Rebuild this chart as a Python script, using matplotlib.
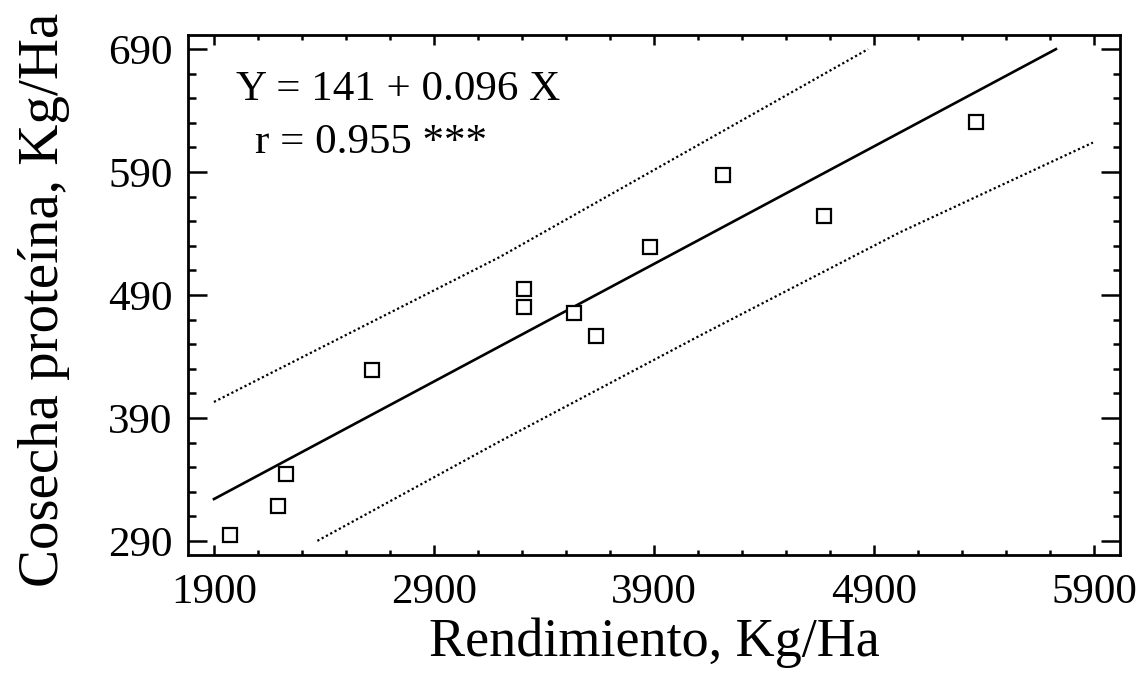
import numpy as np
import matplotlib.pyplot as plt
from matplotlib.ticker import MultipleLocator

plt.rcParams['font.family'] = ['Liberation Serif', 'DejaVu Serif']

# data
rend = [1973, 2191, 2227, 2618, 3309, 3309, 3536, 3636, 3882, 4214, 4673, 5364]
prot = [295, 318, 344, 429, 495, 480, 475, 457, 529, 588, 554, 631]

# fitted line Y = 141 + 0.096 X, drawn between its end points
fit_x = [1900, 5727]
fit_y = [324, 690]

# dotted bands
up_x = [1900, 3200, 4873]
up_y = [403, 521, 690]
lo_x = [2370, 3200, 4109, 5018, 5895]
lo_y = [290, 371, 457, 541, 614]

fig = plt.figure(figsize=(11.42, 6.95), dpi=100)
ax = fig.add_axes([188/1142, 1-555/695, 932/1142, 520/695])

ax.plot(fit_x, fit_y, '-', color='black', lw=1.9)
ax.plot(up_x, up_y, color='black', lw=1.6, ls=(0, (1, 1.2)))
ax.plot(lo_x, lo_y, color='black', lw=1.6, ls=(0, (1, 1.2)))
ax.plot(rend, prot, 's', ms=10, mfc='white', mec='black', mew=1.6)

ax.set_xlim(1782, 6018)
ax.set_ylim(278.5, 701.5)
ax.set_xticks([1900, 2900, 3900, 4900, 5900])
ax.set_yticks([290, 390, 490, 590, 690])
ax.set_xticks(np.arange(1900, 6000, 200), minor=True)
ax.set_yticks(np.arange(290, 700, 20), minor=True)

for s in ax.spines.values():
    s.set_linewidth(2)
ax.tick_params(which='both', direction='in', top=True, right=True, width=1.8, labelsize=31)
ax.tick_params(axis='x', which='major', length=7.5, pad=13)
ax.tick_params(axis='x', which='minor', length=3.6)
ax.tick_params(axis='y', which='major', length=13.5, pad=11)
ax.tick_params(axis='y', which='minor', length=5.4)

ax.set_xlabel('Rendimiento, Kg/Ha', fontsize=39, labelpad=4)
fig.text(44/1142, 1-300/695, 'Cosecha proteína, Kg/Ha', fontsize=41,
         rotation=90, ha='center', va='center')

ax.text(0.0515, 0.875, 'Y = 141 + 0.096 X', transform=ax.transAxes, fontsize=31, va='baseline')
ax.text(0.072, 0.773, 'r = 0.955 ***', transform=ax.transAxes, fontsize=31, va='baseline')

fig.savefig('out.png', dpi=100)
